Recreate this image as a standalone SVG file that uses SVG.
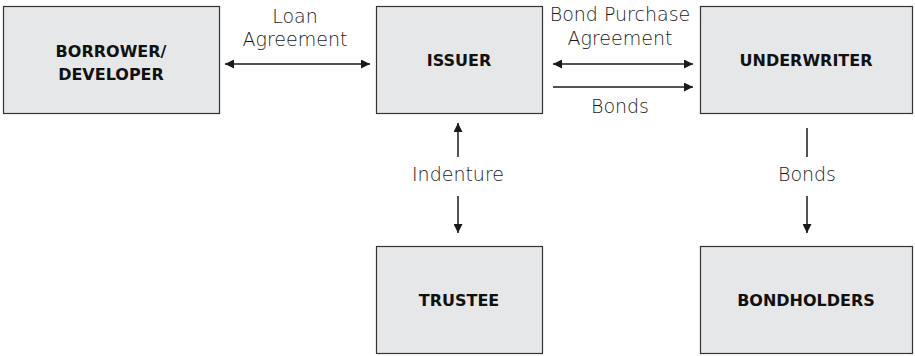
<svg xmlns="http://www.w3.org/2000/svg" width="915" height="356" viewBox="0 0 915 356">
  <defs>
    <marker id="ah" viewBox="0 0 10 10" refX="10" refY="5" markerWidth="9" markerHeight="9" markerUnits="userSpaceOnUse" orient="auto-start-reverse">
      <path d="M0,0 L10,5 L0,10 z" fill="#1a1a1a"/>
    </marker>
    <style>
      .box { fill: #e6e7e8; stroke: #333; stroke-width: 1.2; }
      .name { font-family: "DejaVu Sans", "Liberation Sans", sans-serif; font-weight: 700; font-size: 16px; fill: #111; text-anchor: middle; }
      .lbl { font-family: "DejaVu Sans", "Liberation Sans", sans-serif; font-weight: 200; font-size: 19px; fill: #1a1a1a; text-anchor: middle; }
      .ln { stroke: #1a1a1a; stroke-width: 1.5; fill: none; }
    </style>
  </defs>
  <rect width="915" height="356" fill="#fff"/>

  <g id="borrower">
    <rect class="box" x="3.5" y="6.5" width="216" height="107"/>
    <text class="name" x="111" y="57">BORROWER/</text>
    <text class="name" x="111" y="80">DEVELOPER</text>
  </g>
  <g id="issuer">
    <rect class="box" x="376.5" y="6.5" width="166" height="107"/>
    <text class="name" x="459" y="66">ISSUER</text>
  </g>
  <g id="underwriter">
    <rect class="box" x="700.5" y="6.5" width="212" height="107"/>
    <text class="name" x="806" y="66">UNDERWRITER</text>
  </g>
  <g id="trustee">
    <rect class="box" x="376.5" y="246.5" width="166" height="107"/>
    <text class="name" x="459" y="306">TRUSTEE</text>
  </g>
  <g id="bondholders">
    <rect class="box" x="700.5" y="246.5" width="212" height="107"/>
    <text class="name" x="806" y="306">BONDHOLDERS</text>
  </g>

  <g id="connectors">
    <line class="ln" x1="225" y1="64" x2="370" y2="64" marker-start="url(#ah)" marker-end="url(#ah)"/>
    <line class="ln" x1="553" y1="64" x2="693" y2="64" marker-start="url(#ah)" marker-end="url(#ah)"/>
    <line class="ln" x1="553" y1="87" x2="693" y2="87" marker-end="url(#ah)"/>
    <line class="ln" x1="458" y1="157" x2="458" y2="123" marker-end="url(#ah)"/>
    <line class="ln" x1="458" y1="196" x2="458" y2="233" marker-end="url(#ah)"/>
    <line class="ln" x1="807" y1="128" x2="807" y2="157"/>
    <line class="ln" x1="807" y1="196" x2="807" y2="233" marker-end="url(#ah)"/>
  </g>

  <g id="labels">
    <text class="lbl" x="295" y="23">Loan</text>
    <text class="lbl" x="295" y="46">Agreement</text>
    <text class="lbl" x="620" y="21">Bond Purchase</text>
    <text class="lbl" x="620" y="45">Agreement</text>
    <text class="lbl" x="620" y="113">Bonds</text>
    <text class="lbl" x="458" y="181">Indenture</text>
    <text class="lbl" x="807" y="181">Bonds</text>
  </g>
</svg>
